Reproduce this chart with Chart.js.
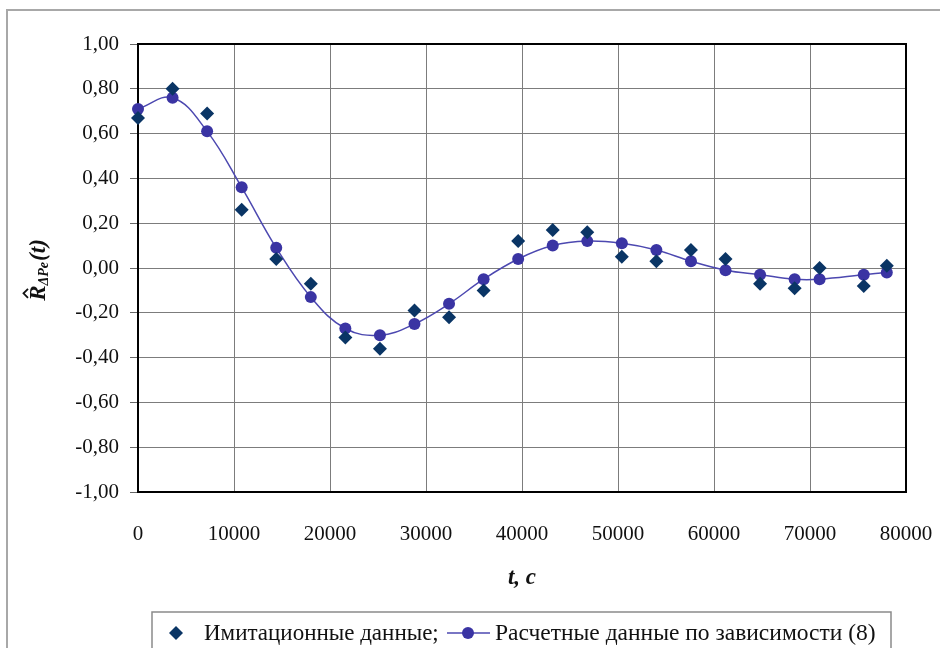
<!DOCTYPE html>
<html lang="ru">
<head>
<meta charset="utf-8">
<script src="https://cdn.jsdelivr.net/npm/chart.js@4/dist/chart.umd.min.js"></script>
<style>
  html, body { margin: 0; padding: 0; background: #fff; overflow: hidden; }
  canvas { display: block; }
</style>
</head>
<body>
<canvas id="c" width="940" height="648"></canvas>
<script>
// Time, s
const times = [0, 3600, 7200, 10800, 14400, 18000, 21600, 25200, 28800, 32400, 36000,
  39600, 43200, 46800, 50400, 54000, 57600, 61200, 64800, 68400, 71000, 75600, 78000];
// Simulated autocorrelation values
const simulated = [0.67, 0.80, 0.69, 0.26, 0.04, -0.07, -0.31, -0.36, -0.19, -0.22, -0.10,
  0.12, 0.17, 0.16, 0.05, 0.03, 0.08, 0.04, -0.07, -0.09, 0.00, -0.08, 0.01];
// Values computed from dependence (8)
const computed = [0.71, 0.76, 0.61, 0.36, 0.09, -0.13, -0.27, -0.30, -0.25, -0.16, -0.05,
  0.04, 0.10, 0.12, 0.11, 0.08, 0.03, -0.01, -0.03, -0.05, -0.05, -0.03, -0.02];

const seriesNames = ['Имитационные данные;', 'Расчетные данные по зависимости (8)'];
const xTitle = 't, c';

const SERIF = '"Liberation Serif", "Times New Roman", serif';
const DIAMOND = '#0a3565';
const CIRCLE = '#3a34a3';
const LINE = '#4c48b0';
const GRID = '#7c7c7c';

const toPoints = (xs, ys) => xs.map((x, i) => ({ x, y: ys[i] }));

// Outer gray frame and the black frame around the plot area
const frames = {
  id: 'frames',
  beforeDraw(chart) {
    const { ctx } = chart;
    ctx.save();
    ctx.strokeStyle = '#a8a8a8';
    ctx.lineWidth = 2;
    ctx.beginPath();
    ctx.moveTo(7, 648); ctx.lineTo(7, 10); ctx.lineTo(940, 10);
    ctx.stroke();
    ctx.restore();
  },
  beforeDatasetsDraw(chart) {
    const { ctx, chartArea: a } = chart;
    ctx.save();
    ctx.strokeStyle = '#000';
    ctx.lineWidth = 2;
    ctx.strokeRect(a.left, a.top, a.right - a.left, a.bottom - a.top);
    ctx.restore();
  }
};

// Axis titles and the legend box
const decorations = {
  id: 'decorations',
  afterDraw(chart) {
    const { ctx, chartArea: a } = chart;
    ctx.save();
    ctx.fillStyle = '#111';

    // x axis title
    ctx.font = 'italic bold 23px ' + SERIF;
    ctx.textAlign = 'center';
    ctx.textBaseline = 'middle';
    ctx.fillText(xTitle, (a.left + a.right) / 2, 578);

    // y axis title: R̂ with subscript ΔPe, then (t)
    ctx.translate(37, (a.top + a.bottom) / 2 + 2);
    ctx.rotate(-Math.PI / 2);
    ctx.textAlign = 'left';
    ctx.textBaseline = 'alphabetic';
    const big = 'italic bold 23px ' + SERIF;
    const small = 'italic bold 14px ' + SERIF;
    ctx.font = big;
    const wR = ctx.measureText('R').width;
    const wT = ctx.measureText('(t)').width;
    ctx.font = small;
    const wS = ctx.measureText('ΔPe').width;
    const total = wR + wS + wT + 1;
    let x = -total / 2;
    const base = 8;
    ctx.font = big;
    ctx.fillText('R', x, base);
    // circumflex over R
    ctx.beginPath();
    ctx.lineWidth = 1.8;
    ctx.strokeStyle = '#111';
    ctx.moveTo(x + 3, base - 17);
    ctx.lineTo(x + 7.5, base - 21.5);
    ctx.lineTo(x + 12, base - 17);
    ctx.stroke();
    x += wR;
    ctx.font = small;
    ctx.fillText('ΔPe', x, base + 3);
    x += wS + 1;
    ctx.font = big;
    ctx.fillText('(t)', x, base);
    ctx.restore();

    // legend
    ctx.save();
    ctx.strokeStyle = '#8a8a8a';
    ctx.lineWidth = 1.5;
    ctx.strokeRect(152, 612, 739, 60);
    ctx.fillStyle = DIAMOND;
    ctx.beginPath();
    ctx.moveTo(176, 626); ctx.lineTo(183, 633); ctx.lineTo(176, 640); ctx.lineTo(169, 633);
    ctx.closePath();
    ctx.fill();
    ctx.fillStyle = '#111';
    ctx.font = '23px ' + SERIF;
    ctx.textAlign = 'left';
    ctx.textBaseline = 'middle';
    ctx.fillText(seriesNames[0], 204, 634);
    ctx.strokeStyle = LINE;
    ctx.lineWidth = 1.5;
    ctx.beginPath();
    ctx.moveTo(447, 633); ctx.lineTo(490, 633);
    ctx.stroke();
    ctx.fillStyle = CIRCLE;
    ctx.beginPath();
    ctx.arc(468, 633, 6, 0, Math.PI * 2);
    ctx.fill();
    ctx.fillStyle = '#111';
    ctx.font = '23.5px ' + SERIF;
    ctx.fillText(seriesNames[1], 495, 634);
    ctx.restore();
  }
};

new Chart(document.getElementById('c'), {
  type: 'scatter',
  data: {
    datasets: [
      {
        label: seriesNames[1],
        data: toPoints(times, computed),
        showLine: true,
        tension: 0.4,
        borderColor: LINE,
        borderWidth: 1.5,
        pointStyle: 'circle',
        pointRadius: 6,
        pointBackgroundColor: CIRCLE,
        pointBorderColor: CIRCLE,
        pointBorderWidth: 0,
        clip: false,
        order: 2
      },
      {
        label: seriesNames[0],
        data: toPoints(times, simulated),
        showLine: false,
        pointStyle: 'rectRot',
        pointRadius: 7,
        pointBackgroundColor: DIAMOND,
        pointBorderColor: DIAMOND,
        pointBorderWidth: 0,
        clip: false,
        order: 1
      }
    ]
  },
  options: {
    responsive: false,
    animation: false,
    devicePixelRatio: 1,
    layout: { padding: { left: 0, top: 44, right: 34, bottom: 0 } },
    plugins: { legend: { display: false }, tooltip: { enabled: false } },
    scales: {
      x: {
        type: 'linear',
        min: 0, max: 80000,
        afterFit(s) { s.height = 156; s.paddingLeft = 0; s.paddingRight = 0; },
        ticks: {
          stepSize: 10000,
          padding: 30,
          color: '#111',
          font: { family: SERIF, size: 21 },
          maxRotation: 0,
          callback: v => String(v)
        },
        grid: { color: GRID, lineWidth: 1, drawTicks: false },
        border: { display: false }
      },
      y: {
        min: -1, max: 1,
        afterFit(s) { s.width = 138; s.paddingTop = 0; s.paddingBottom = 0; },
        ticks: {
          stepSize: 0.2,
          padding: 11,
          color: '#111',
          font: { family: SERIF, size: 21 },
          callback: v => {
            const r = Math.abs(v) < 1e-9 ? 0 : v;
            return r.toFixed(2).replace('.', ',');
          }
        },
        grid: { color: GRID, lineWidth: 1, tickLength: 8, tickColor: '#666' },
        border: { display: false }
      }
    }
  },
  plugins: [frames, decorations]
});
</script>
</body>
</html>
